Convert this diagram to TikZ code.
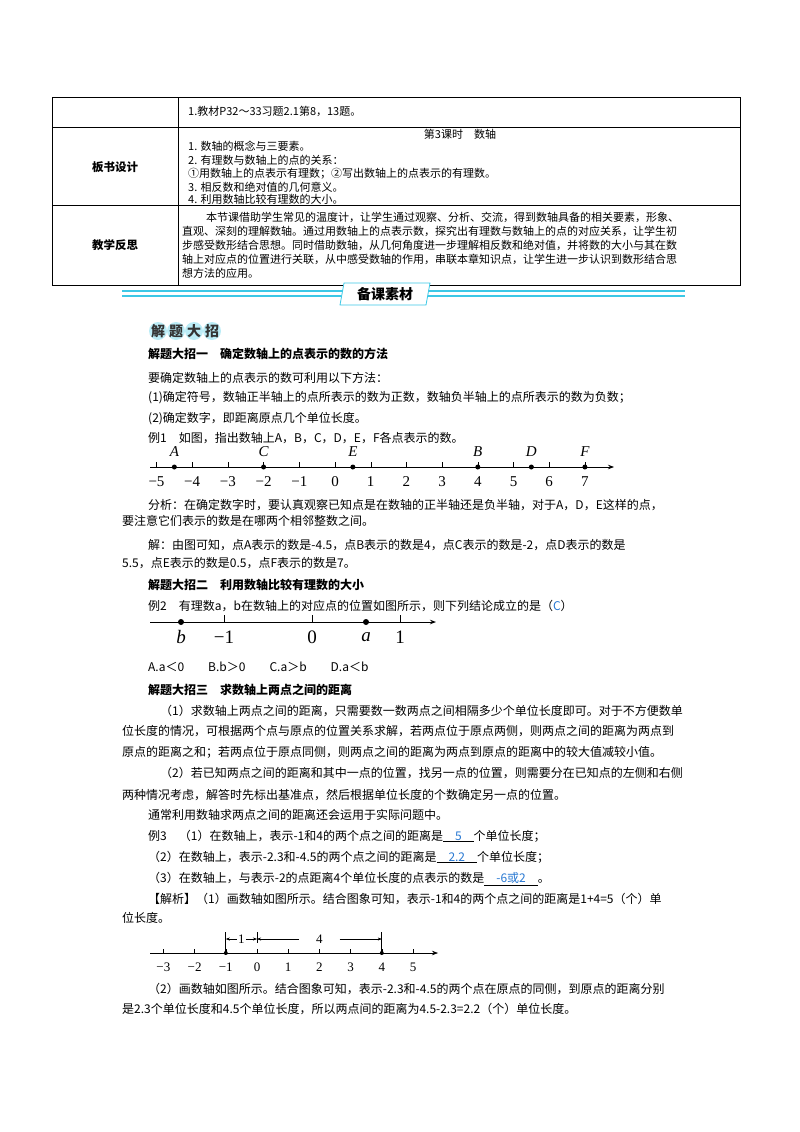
\documentclass[tikz,border=0pt]{standalone}
\usepackage{fontspec}
\setmainfont{Noto Sans CJK SC}
\newfontfamily\ser{Liberation Serif}
\usetikzlibrary{arrows.meta}
\definecolor{ansblue}{RGB}{40,120,210}
\definecolor{bancyan}{RGB}{60,200,230}
\tikzset{
 tx/.style={anchor=west,inner sep=0pt,font=\fontsize{12}{14}\selectfont},
 tt/.style={anchor=west,inner sep=0pt,font=\fontsize{11}{13}\selectfont},
 hd/.style={anchor=west,inner sep=0pt,font=\fontsize{12}{14}\selectfont\bfseries},
 nl/.style={inner sep=0pt,font=\ser\fontsize{15}{16}\selectfont},
 nls/.style={inner sep=0pt,font=\ser\fontsize{13}{14}\selectfont},
 nll/.style={inner sep=0pt,font=\ser\fontsize{19}{20}\selectfont},
 ax/.style={line width=0.8pt,-{Stealth[length=6pt]}},
 dot/.style={circle,fill,inner sep=0pt,minimum size=5pt},
}
\newcommand{\nm}[1]{\ifnum#1<0 −\number-#1\else #1\fi}
\begin{document}
\begin{tikzpicture}[x=1pt,y=-1pt]
\useasboundingbox (0,0) rectangle (800,1132);
% table
\draw[line width=0.8pt] (52,97) rectangle (740,285);
\draw (178,97) -- (178,285);
\draw (52,127) -- (740,127) (52,205) -- (740,205);
\node[tt] (t1) at (188,111) {1.教材P32～33习题2.1第8，13题。};
\node[tt,anchor=center] (t2) at (460,134) {第3课时\quad 数轴};
\node[tt] (t3) at (188,146) {1. 数轴的概念与三要素。};
\node[tt] (t4) at (188,160) {2. 有理数与数轴上的点的关系：};
\node[tt] (t5) at (188,173.5) {①用数轴上的点表示有理数；②写出数轴上的点表示的有理数。};
\node[tt] (t6) at (188,187) {3. 相反数和绝对值的几何意义。};
\node[tt] (t7) at (188,199.5) {4. 利用数轴比较有理数的大小。};
\node[tt,font=\fontsize{11.5}{13}\selectfont\bfseries,anchor=center] (l1) at (115,167) {板书设计};
\node[tt,font=\fontsize{11.5}{13}\selectfont\bfseries,anchor=center] (l2) at (115,245) {教学反思};
\node[tt] (r1) at (206,217) {本节课借助学生常见的温度计，让学生通过观察、分析、交流，得到数轴具备的相关要素，形象、};
\node[tt] (r2) at (182,231) {直观、深刻的理解数轴。通过用数轴上的点表示数，探究出有理数与数轴上的点的对应关系，让学生初};
\node[tt] (r3) at (182,245) {步感受数形结合思想。同时借助数轴，从几何角度进一步理解相反数和绝对值，并将数的大小与其在数};
\node[tt] (r4) at (182,259) {轴上对应点的位置进行关联，从中感受数轴的作用，串联本章知识点，让学生进一步认识到数形结合思};
\node[tt] (r5) at (182,273) {想方法的应用。};
% banner
\draw[bancyan,line width=1.2pt] (122,291) -- (685,291) (122,296) -- (685,296);
\draw[bancyan,fill=white,line width=0.8pt] (344,283) -- (430,283) -- (426,305) -- (340,305) -- cycle;
\node[inner sep=0pt,font=\fontsize{14}{16}\selectfont\bfseries] (ban) at (385,294) {备课素材};
% badge
\foreach \c [count=\i] in {解,题,大,招}{
 \fill[bancyan!35] (140+\i*18,331) circle (9);
 \node[inner sep=0pt,font=\fontsize{14}{16}\selectfont\bfseries,text=black!80] (b\i) at (140+\i*18,331) {\c};
}
\node[hd] (h1) at (148,354) {解题大招一\quad 确定数轴上的点表示的数的方法};
\node[tx] (p1) at (148,378) {要确定数轴上的点表示的数可利用以下方法：};
\node[tx] (p2) at (148,398) {(1)确定符号，数轴正半轴上的点所表示的数为正数，数轴负半轴上的点所表示的数为负数；};
\node[tx] (p3) at (148,419) {(2)确定数字，即距离原点几个单位长度。};
\node[tx] (p4) at (148,438) {例1\quad 如图，指出数轴上A，B，C，D，E，F各点表示的数。};
% number line 1
\coordinate (n1s) at (150,467); \coordinate (n1e) at (614,467);
\draw[ax] (n1s) -- (n1e);
\foreach \v in {-5,...,7}{
 \draw (335+\v*35.7,467) -- (335+\v*35.7,462);
 \node[nl] at (335+\v*35.7,482) {\nm{\v}};
}
\foreach \p/\l in {-4.5/A,-2/C,0.5/E,4/B,5.5/D,7/F}{
 \node[dot] (d\l) at (335+\p*35.7,467) {};
 \node[nl] at (335+\p*35.7,452) {\itshape \l};
}
\node[tx] (p5) at (148,505) {分析：在确定数字时，要认真观察已知点是在数轴的正半轴还是负半轴，对于A，D，E这样的点，};
\node[tx] (p6) at (122,521) {要注意它们表示的数是在哪两个相邻整数之间。};
\node[tx] (p7) at (148,545) {解：由图可知，点A表示的数是-4.5，点B表示的数是4，点C表示的数是-2，点D表示的数是};
\node[tx] (p8) at (122,563) {5.5，点E表示的数是0.5，点F表示的数是7。};
\node[hd] (h2) at (148,585) {解题大招二\quad 利用数轴比较有理数的大小};
\node[tx] (p9) at (148,606) {例2\quad 有理数a，b在数轴上的对应点的位置如图所示，则下列结论成立的是（\textcolor{ansblue}{C}）};
% number line 2
\coordinate (n2s) at (150,622); \coordinate (n2e) at (436,622);
\draw[ax,line width=1pt] (n2s) -- (n2e);
\foreach \v in {-1,0,1}{\draw (312+\v*88,622) -- (312+\v*88,615);}
\node[dot,minimum size=6pt] (db) at (181,622) {};
\node[dot,minimum size=6pt] (da) at (366,622) {};
\node[nll] at (181,637) {\itshape b};
\node[nll] at (224,637) {−1};
\node[nll] at (312,637) {0};
\node[nll] at (366,637) {\itshape a};
\node[nll] at (400,637) {1};
\node[tx] (p10) at (148,667) {A.a＜0\qquad B.b＞0\qquad C.a＞b\qquad D.a＜b};
\node[hd] (h3) at (148,690) {解题大招三\quad 求数轴上两点之间的距离};
\node[tx] (q1) at (160,711) {（1）求数轴上两点之间的距离，只需要数一数两点之间相隔多少个单位长度即可。对于不方便数单};
\node[tx] (q2) at (122,731) {位长度的情况，可根据两个点与原点的位置关系求解，若两点位于原点两侧，则两点之间的距离为两点到};
\node[tx] (q3) at (122,752) {原点的距离之和；若两点位于原点同侧，则两点之间的距离为两点到原点的距离中的较大值减较小值。};
\node[tx] (q4) at (160,773) {（2）若已知两点之间的距离和其中一点的位置，找另一点的位置，则需要分在已知点的左侧和右侧};
\node[tx] (q5) at (122,795) {两种情况考虑，解答时先标出基准点，然后根据单位长度的个数确定另一点的位置。};
\node[tx] (q6) at (148,815) {通常利用数轴求两点之间的距离还会运用于实际问题中。};
\node[tx] (q7) at (148,836) {例3\quad （1）在数轴上，表示-1和4的两个点之间的距离是\underline{\textcolor{ansblue}{\quad 5\quad }}个单位长度；};
\node[tx] (q8) at (148,857) {（2）在数轴上，表示-2.3和-4.5的两个点之间的距离是\underline{\textcolor{ansblue}{\quad 2.2\quad }}个单位长度；};
\node[tx] (q9) at (148,879) {（3）在数轴上，与表示-2的点距离4个单位长度的点表示的数是\underline{\textcolor{ansblue}{\quad -6或2\quad }}。};
\node[tx] (q10) at (148,899) {【解析】（1）画数轴如图所示。结合图象可知，表示-1和4的两个点之间的距离是1+4=5（个）单};
\node[tx] (q11) at (122,918) {位长度。};
% number line 3
\coordinate (n3s) at (150,953); \coordinate (n3e) at (438,953);
\draw[ax,line width=0.6pt] (n3s) -- (n3e);
\foreach \v in {-3,...,5}{
 \draw (257+\v*31.2,953) -- (257+\v*31.2,949);
 \node[nls] at (257+\v*31.2,967) {\nm{\v}};
}
\node[dot,minimum size=4pt] (m1) at (225.8,953) {};
\node[dot,minimum size=4pt] (m4) at (381.8,953) {};
\draw[line width=0.8pt] (225.8,932) -- (225.8,953) (381.8,932) -- (381.8,953) (257,932) -- (257,943);
\coordinate (am1) at (225.8,939); \coordinate (a0) at (257,939); \coordinate (a4) at (381.8,939);
\node[inner sep=1pt,fill=white,font=\ser\fontsize{13}{14}\selectfont] (lab1) at (241.4,939) {1};
\node[inner sep=0pt,fill=white,minimum width=40pt,font=\ser\fontsize{13}{14}\selectfont] (lab4) at (319.4,939) {4};
\draw[-{Stealth[length=4pt]}] (lab1) -- (am1);
\draw[-{Stealth[length=4pt]}] (lab1) -- (a0);
\draw[-{Stealth[length=4pt]}] (lab4) -- (a0);
\draw[-{Stealth[length=4pt]}] (lab4) -- (a4);
\node[tx] (q12) at (148,989) {（2）画数轴如图所示。结合图象可知，表示-2.3和-4.5的两个点在原点的同侧，到原点的距离分别};
\node[tx] (q13) at (122,1009) {是2.3个单位长度和4.5个单位长度，所以两点间的距离为4.5-2.3=2.2（个）单位长度。};
\end{tikzpicture}
\end{document}
